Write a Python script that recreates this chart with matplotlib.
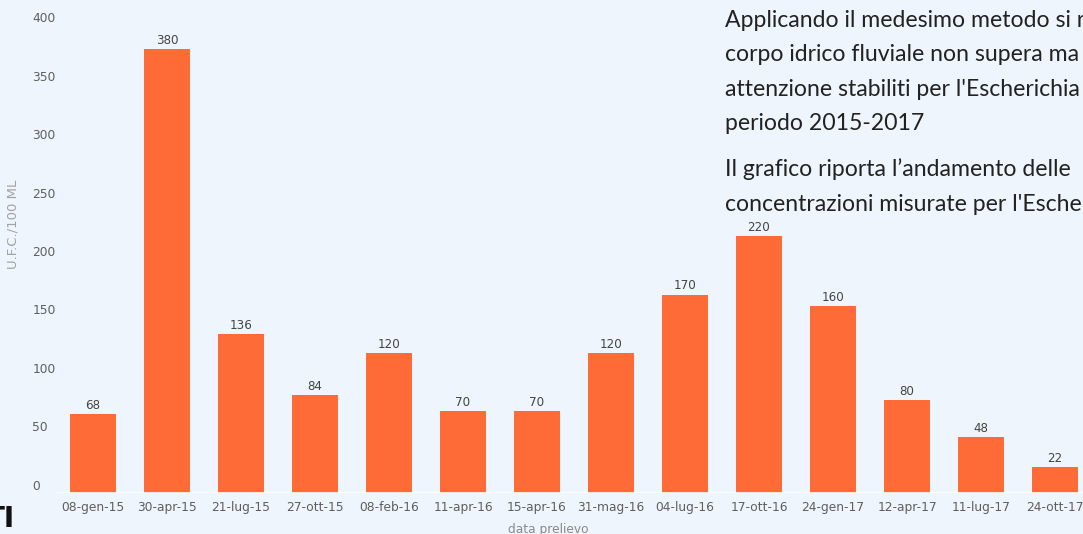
"""Escherichia coli concentrations per sampling date, 2015-2017."""
import matplotlib

matplotlib.use("Agg")
import matplotlib.pyplot as plt
from matplotlib.transforms import ScaledTranslation

dates = ["08-gen-15", "30-apr-15", "21-lug-15", "27-ott-15", "08-feb-16", "11-apr-16",
         "15-apr-16", "31-mag-16", "04-lug-16", "17-ott-16", "24-gen-17", "12-apr-17",
         "11-lug-17", "24-ott-17"]
ufc = [68, 380, 136, 84, 120, 70, 70, 120, 170, 220, 160, 80, 48, 22]
yticks = [0, 50, 100, 150, 200, 250, 300, 350, 400]

# side text, one entry per line, with its baseline in pixels from the top
side_lines = ["Applicando il medesimo metodo si r",
              "corpo idrico fluviale non supera ma",
              "attenzione stabiliti per l'Escherichia",
              "periodo 2015-2017",
              "Il grafico riporta l\u2019andamento delle",
              "concentrazioni misurate per l'Esche"]
side_baselines = [27, 61, 96, 130, 176, 211]

BG = "#eef5fc"
BAR = "#ff6b36"
W, H = 1083, 534

fig = plt.figure(figsize=(W / 100, H / 100), dpi=100, facecolor=BG)
ax = fig.add_axes([56 / W, 41 / H, 1 - 56 / W, 467 / H], facecolor=BG)

x = range(len(dates))
bars = ax.bar(x, ufc, width=0.61, color=BAR, zorder=2)
ax.bar_label(bars, labels=[str(v) for v in ufc], padding=1.5, fontsize=8.6,
             color="#444444")

ax.set_xlim(-0.5, (W - 93) / 74)
ax.set_ylim(0, 400)
ax.axhline(0, color="white", lw=1.2, zorder=3)
for s in ax.spines.values():
    s.set_visible(False)

ax.set_xticks(list(x))
ax.set_xticklabels(dates, fontsize=8.8, color="#5e5e5e")
ax.set_yticks(yticks)
ax.set_yticklabels([str(v) for v in yticks], fontsize=8.8, color="#5e5e5e")
ax.tick_params(length=0)
ax.tick_params(axis="x", pad=5.5)
ax.tick_params(axis="y", pad=17)
lift = ScaledTranslation(0, 8.5 / 100, fig.dpi_scale_trans)
for lab in ax.get_yticklabels():
    lab.set_horizontalalignment("left")
    lab.set_transform(lab.get_transform() + lift)

fig.text(13 / W, 1 - 224 / H, "U.F.C./100 ML", rotation=90, ha="center", va="center",
         fontsize=9.5, color="#a3a3a3")
fig.text(548 / W, 1 - 529 / H, "data prelievo", ha="center", va="center",
         fontsize=8.8, color="#8a8a8a")

for line, base in zip(side_lines, side_baselines):
    fig.text(725 / W, 1 - base / H, line, ha="left", va="baseline", fontsize=16.6,
             family="Lato", color="#222222")

fig.text(15 / W, 1 - 527 / H, "TI", ha="right", va="baseline", fontsize=20,
         fontweight="bold", color="#111111")

fig.savefig("out.png", dpi=100, facecolor=BG)
